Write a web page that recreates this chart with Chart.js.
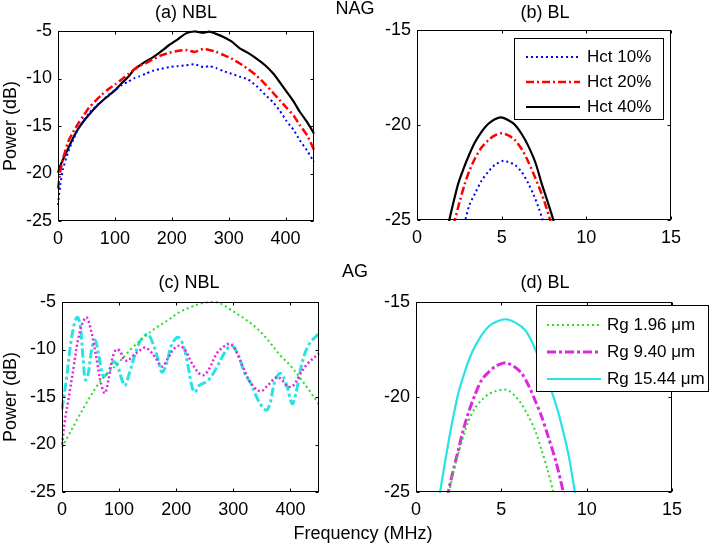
<!DOCTYPE html>
<html><head><meta charset="utf-8">
<script src="https://cdn.jsdelivr.net/npm/chart.js@4.4.0/dist/chart.umd.min.js"></script>
<style>
html,body{margin:0;padding:0;background:#fff;}
#wrap{position:relative;width:719px;height:544px;overflow:hidden;background:#fff;}
canvas{position:absolute;left:0;top:0;}
</style></head><body>
<div id="wrap">
<canvas id="ca" width="719" height="544"></canvas>
<canvas id="cb" width="719" height="544"></canvas>
<canvas id="cc" width="719" height="544"></canvas>
<canvas id="cd" width="719" height="544"></canvas>
</div>
<script>
// ---------- tick labels ----------
const ticksFreqNBL = [0, 100, 200, 300, 400];
const ticksFreqBL = [0, 5, 10, 15];
const ticksPowerNBL = [-25, -20, -15, -10, -5];
const ticksPowerBL = [-25, -20, -15];

// ---------- (a) NAG, NBL ----------
const freqA = [0,4,9,18,27,36,45,54,65,77,89,101,112,124,133,142,154,166,180,195,210,225,240,255,266,278,290,305,319,334,349,364,378,390,402,414,425,438,450];
const hct40A = [-19.9,-19.2,-18.5,-17.35,-16.2,-15.25,-14.5,-13.85,-13.1,-12.4,-11.8,-11.2,-10.5,-9.8,-9.1,-8.7,-8.2,-7.8,-7.2,-6.5,-5.9,-5.25,-5.05,-5.2,-5.07,-5.3,-5.6,-6.1,-6.8,-7.3,-7.9,-8.6,-9.45,-10.4,-11.4,-12.4,-13.5,-14.6,-15.8];
const hct20A = [-21.6,-19.8,-18.4,-16.65,-15.6,-14.7,-13.9,-13.1,-12.4,-11.7,-11.1,-10.6,-10.1,-9.5,-9.1,-8.7,-8.4,-8.0,-7.6,-7.3,-7.1,-7.0,-7.2,-6.9,-7.0,-7.2,-7.5,-7.9,-8.4,-9.0,-9.7,-10.6,-11.5,-12.3,-13.1,-13.9,-14.9,-16.0,-17.5];
const hct10A = [-23.3,-21.2,-19.5,-17.7,-16.4,-15.25,-14.4,-13.7,-13.0,-12.4,-11.7,-11.2,-10.7,-10.3,-10.0,-9.8,-9.5,-9.2,-9.0,-8.8,-8.7,-8.6,-8.5,-8.8,-8.7,-8.9,-9.2,-9.5,-9.8,-10.1,-10.8,-11.7,-12.5,-13.4,-14.5,-15.4,-16.5,-17.6,-18.8];

// ---------- (b) NAG, BL ----------
const freqB40 = [1.85,1.91,2.2,2.44,2.75,3.03,3.4,3.82,4.2,4.6,4.96,5.4,5.79,6.2,6.57,7.0,7.36,7.7,8.05,8.1];
const hct40B = [-25.3,-25,-23.9,-23.07,-22.3,-21.67,-20.95,-20.35,-19.95,-19.7,-19.6,-19.75,-20.0,-20.5,-21.1,-22.0,-23.07,-24.0,-25,-25.3];
const freqB20 = [2.18,2.24,2.5,2.83,3.1,3.43,3.8,4.21,4.6,5.0,5.4,5.79,6.2,6.57,6.9,7.26,7.55,7.86,7.92];
const hct20B = [-25.3,-25,-24.1,-23.07,-22.4,-21.75,-21.2,-20.8,-20.55,-20.44,-20.55,-20.8,-21.3,-21.93,-22.6,-23.4,-24.1,-25,-25.3];
const freqB10 = [2.78,2.85,3.1,3.43,3.8,4.21,4.6,5.1,5.4,5.79,6.2,6.57,6.9,7.2,7.42,7.48];
const hct10B = [-25.2,-25,-24.2,-23.6,-22.95,-22.46,-22.1,-21.88,-21.95,-22.1,-22.5,-23.07,-23.7,-24.4,-25,-25.2];

// ---------- (c) AG, NBL ----------
const freqCg = [0,10,28,45,63,80,98,120,145,165,186,205,227,248,268,282,295,318,342,362,382,400,417,433,450];
const rg196C = [-20.3,-19.2,-17.2,-15.4,-13.7,-12.5,-11.45,-10.0,-8.65,-7.7,-6.9,-6.1,-5.5,-5.1,-5.0,-5.3,-5.8,-6.7,-7.8,-9.1,-10.6,-11.7,-13.0,-14.3,-15.8];
const freqCm = [0,5,12,20,28,36,43,50,56,62,68,75,82,88,95,102,108,115,122,132,145,155,165,175,185,195,205,215,228,240,248,258,270,283,295,305,318,330,347,360,376,385,395,405,418,430,450];
const rg940C = [-20,-17.5,-15,-12,-9,-7.2,-6.6,-7.8,-9.5,-11.5,-13.5,-14.6,-13,-11,-10,-10.2,-11,-11.2,-10.8,-10.3,-9.8,-10.2,-11,-11.8,-11,-10,-9.6,-10,-11.5,-12.5,-12.7,-12,-10.5,-9.7,-9.4,-10.2,-12,-13.5,-14.4,-13.8,-12.9,-13.2,-13.9,-13.8,-12.5,-11.5,-10.4];
const freqCc = [0,8,15,22,27,32,37,41,46,52,58,64,72,78,84,90,97,104,110,118,128,138,150,160,168,175,183,192,203,212,220,228,233,240,255,270,285,297,308,320,330,345,358,365,372,382,392,403,410,420,432,450];
const rg1544C = [-16.3,-13,-9.5,-7.2,-6.6,-7.5,-11,-13.2,-12.5,-10,-9,-10.5,-12.8,-12.6,-12,-11.3,-11.7,-13,-13.8,-12.5,-10.5,-9,-8.4,-9.5,-11,-12.4,-11.5,-9.5,-8.7,-9.5,-11.5,-14,-14.5,-13.8,-13.3,-12,-10.3,-9.6,-10.5,-12.5,-13.5,-15.5,-16.4,-15.5,-13.5,-12.5,-13.5,-15.7,-14.5,-11.5,-9.5,-8.3];

// ---------- (d) AG, BL ----------
const freqDg = [1.9,1.95,2.2,2.5,3.06,3.45,3.85,4.25,4.63,5.17,5.5,5.86,6.2,6.58,7.0,7.36,7.7,8.04,8.1];
const rg196D = [-25.3,-25,-23.9,-22.9,-21.3,-20.6,-20.16,-19.85,-19.7,-19.6,-19.7,-20.0,-20.4,-21.0,-21.8,-22.8,-23.8,-25,-25.3];
const freqDm = [1.84,1.89,2.2,2.48,2.75,3.06,3.45,3.85,4.25,4.63,5.0,5.31,5.75,6.19,6.6,6.97,7.35,7.75,8.2,8.63,8.68];
const rg940D = [-25.3,-25,-23.8,-22.8,-21.8,-20.86,-19.9,-19.1,-18.7,-18.4,-18.25,-18.2,-18.4,-18.75,-19.4,-20.16,-21.0,-22.1,-23.4,-25,-25.3];
const freqDc = [1.36,1.41,1.65,1.89,2.15,2.48,2.85,3.26,3.7,4.24,4.8,5.31,5.85,6.39,6.8,7.17,7.55,7.95,8.3,8.63,8.95,9.31,9.36];
const rg1544D = [-25.3,-25,-23.7,-22.44,-21.2,-19.8,-18.7,-17.7,-16.95,-16.3,-16.0,-15.91,-16.1,-16.47,-17.1,-17.9,-18.75,-19.7,-20.7,-21.84,-23.1,-25,-25.3];

const FONT = "'Liberation Sans', Arial, Helvetica, sans-serif";
const FS = 18;
const LFS = 17;
Chart.defaults.font.family = FONT;
Chart.defaults.font.size = FS;
Chart.defaults.color = '#000';

function pts(xs, ys) { return xs.map((x, i) => ({ x: x, y: ys[i] })); }

const DOT = [2, 3];
const DASHDOT = [8, 3, 2, 3];

const framePlugin = {
  id: 'frame',
  afterDatasetsDraw(chart) {
    const ctx = chart.ctx, a = chart.chartArea, sx = chart.scales.x, sy = chart.scales.y;
    ctx.save();
    ctx.strokeStyle = '#000';
    ctx.lineWidth = 1;
    ctx.setLineDash([]);
    const L = Math.round(a.left) + 0.5, R = Math.round(a.right) - 0.5;
    const T = Math.round(a.top) + 0.5, B = Math.round(a.bottom) - 0.5;
    ctx.strokeRect(L, T, R - L, B - T);
    const tl = 3;
    ctx.beginPath();
    sx.ticks.forEach(t => {
      const px = Math.round(sx.getPixelForValue(t.value)) + 0.5;
      ctx.moveTo(px, B); ctx.lineTo(px, B - tl);
      ctx.moveTo(px, T); ctx.lineTo(px, T + tl);
    });
    sy.ticks.forEach(t => {
      const py = Math.round(sy.getPixelForValue(t.value)) + 0.5;
      ctx.moveTo(L, py); ctx.lineTo(L + tl, py);
      ctx.moveTo(R, py); ctx.lineTo(R - tl, py);
    });
    ctx.stroke();
    ctx.restore();
  },
  afterDraw(chart, args, opts) {
    const ctx = chart.ctx;
    const texts = opts.texts || [];
    for (let i = 0; i < texts.length; i++) {
      const t = texts[i];
      ctx.save();
      ctx.font = FS + 'px ' + FONT;
      ctx.fillStyle = '#000';
      ctx.textAlign = 'center';
      ctx.textBaseline = 'middle';
      ctx.fillText(t.text, t.x, t.y);
      ctx.restore();
    }
    const lg = opts.legend;
    if (!lg) return;
    ctx.save();
    ctx.fillStyle = '#fff';
    ctx.fillRect(lg.x, lg.y, lg.w, lg.h);
    ctx.strokeStyle = '#000';
    ctx.lineWidth = 1;
    ctx.setLineDash([]);
    ctx.strokeRect(lg.x + 0.5, lg.y + 0.5, lg.w, lg.h);
    chart.data.datasets.forEach((ds, i) => {
      const y = lg.rows[i];
      ctx.save();
      ctx.strokeStyle = ds.borderColor;
      ctx.lineWidth = ds.borderWidth;
      ctx.setLineDash(ds.borderDash || []);
      ctx.beginPath();
      ctx.moveTo(lg.x1, y); ctx.lineTo(lg.x2, y);
      ctx.stroke();
      ctx.restore();
      ctx.font = LFS + 'px ' + FONT;
      ctx.fillStyle = '#000';
      ctx.textAlign = 'left';
      ctx.textBaseline = 'middle';
      ctx.fillText(ds.label, lg.tx, y);
    });
    ctx.restore();
  }
};

function makeChart(id, cfg) {
  return new Chart(document.getElementById(id), {
    type: 'line',
    data: { datasets: cfg.datasets },
    options: {
      responsive: false,
      animation: false,
      devicePixelRatio: 1,
      layout: { padding: { left: 0, top: cfg.top, right: 719 - cfg.right, bottom: 0 } },
      elements: { point: { radius: 0 }, line: { tension: cfg.tension } },
      plugins: {
        legend: { display: false },
        tooltip: { enabled: false },
        frame: { texts: cfg.texts || [], legend: cfg.legend || null }
      },
      scales: {
        x: {
          type: 'linear', min: cfg.xmin, max: cfg.xmax,
          grid: { display: false, drawTicks: false },
          border: { display: false },
          ticks: { padding: 7, maxRotation: 0, autoSkip: false, color: '#000' },
          afterBuildTicks: s => { s.ticks = cfg.xticks.map(v => ({ value: v })); },
          afterFit: s => { s.height = 544 - cfg.bottom; }
        },
        y: {
          type: 'linear', min: cfg.ymin, max: cfg.ymax,
          grid: { display: false, drawTicks: false },
          border: { display: false },
          ticks: { padding: 6, color: '#000' },
          title: { display: !!cfg.ytitle, text: cfg.ytitle || '', padding: 0, color: '#000' },
          afterBuildTicks: s => { s.ticks = cfg.yticks.map(v => ({ value: v })); },
          afterFit: s => { s.width = cfg.left; }
        }
      }
    },
    plugins: [framePlugin]
  });
}

const BLUE = '#0000ff', RED = '#ff0000', BLACK = '#000000';
const GREEN = 'rgb(40,220,40)', MAGENTA = 'rgb(222,40,222)', CYAN = 'rgb(40,226,230)';

// (a)
makeChart('ca', {
  left: 58, top: 31, right: 314, bottom: 221, tension: 0.2,
  xmin: 0, xmax: 450, ymin: -25, ymax: -5, xticks: ticksFreqNBL, yticks: ticksPowerNBL,
  ytitle: 'Power (dB)',
  texts: [{ text: '(a) NBL', x: 186, y: 13 }, { text: 'NAG', x: 355, y: 9 }],
  datasets: [
    { label: 'Hct 10%', data: pts(freqA, hct10A), borderColor: BLUE, borderWidth: 2, borderDash: DOT, clip: 1 },
    { label: 'Hct 20%', data: pts(freqA, hct20A), borderColor: RED, borderWidth: 2.5, borderDash: DASHDOT, clip: 1 },
    { label: 'Hct 40%', data: pts(freqA, hct40A), borderColor: BLACK, borderWidth: 2.2, clip: 1 }
  ]
});
// (b)
makeChart('cb', {
  left: 417, top: 30, right: 671, bottom: 220, tension: 0.3,
  xmin: 0, xmax: 15, ymin: -25, ymax: -15, xticks: ticksFreqBL, yticks: ticksPowerBL,
  texts: [{ text: '(b) BL', x: 545, y: 13 }],
  legend: { x: 514, y: 38, w: 149, h: 81, x1: 526, x2: 580, tx: 587, rows: [57, 82, 107] },
  datasets: [
    { label: 'Hct 10%', data: pts(freqB10, hct10B), borderColor: BLUE, borderWidth: 2, borderDash: DOT, clip: 1 },
    { label: 'Hct 20%', data: pts(freqB20, hct20B), borderColor: RED, borderWidth: 2.5, borderDash: DASHDOT, clip: 1 },
    { label: 'Hct 40%', data: pts(freqB40, hct40B), borderColor: BLACK, borderWidth: 2.2, clip: 1 }
  ]
});
// (c)
makeChart('cc', {
  left: 62, top: 302, right: 319, bottom: 492, tension: 0.35,
  xmin: 0, xmax: 450, ymin: -25, ymax: -5, xticks: ticksFreqNBL, yticks: ticksPowerNBL,
  ytitle: 'Power (dB)',
  texts: [{ text: '(c) NBL', x: 189, y: 283 }, { text: 'AG', x: 355, y: 272 }, { text: 'Frequency (MHz)', x: 363, y: 534 }],
  datasets: [
    { label: 'Rg 1.96 \u03bcm', data: pts(freqCg, rg196C), borderColor: GREEN, borderWidth: 2, borderDash: DOT, clip: 1 },
    { label: 'Rg 9.40 \u03bcm', data: pts(freqCm, rg940C), borderColor: MAGENTA, borderWidth: 2.5, borderDash: [2, 2.5], clip: 1 },
    { label: 'Rg 15.44 \u03bcm', data: pts(freqCc, rg1544C), borderColor: CYAN, borderWidth: 3, borderDash: [9, 3, 3, 3], clip: 1 }
  ]
});
// (d)
makeChart('cd', {
  left: 416, top: 302, right: 672, bottom: 492, tension: 0.3,
  xmin: 0, xmax: 15, ymin: -25, ymax: -15, xticks: ticksFreqBL, yticks: ticksPowerBL,
  texts: [{ text: '(d) BL', x: 545, y: 283 }],
  legend: { x: 536, y: 305, w: 172, h: 86, x1: 547, x2: 601, tx: 607, rows: [325, 352, 379] },
  datasets: [
    { label: 'Rg 1.96 \u03bcm', data: pts(freqDg, rg196D), borderColor: GREEN, borderWidth: 2, borderDash: DOT, clip: 1 },
    { label: 'Rg 9.40 \u03bcm', data: pts(freqDm, rg940D), borderColor: MAGENTA, borderWidth: 3, borderDash: [9, 3, 3, 3], clip: 1 },
    { label: 'Rg 15.44 \u03bcm', data: pts(freqDc, rg1544D), borderColor: CYAN, borderWidth: 2.2, clip: 1 }
  ]
});
</script>
</body></html>
